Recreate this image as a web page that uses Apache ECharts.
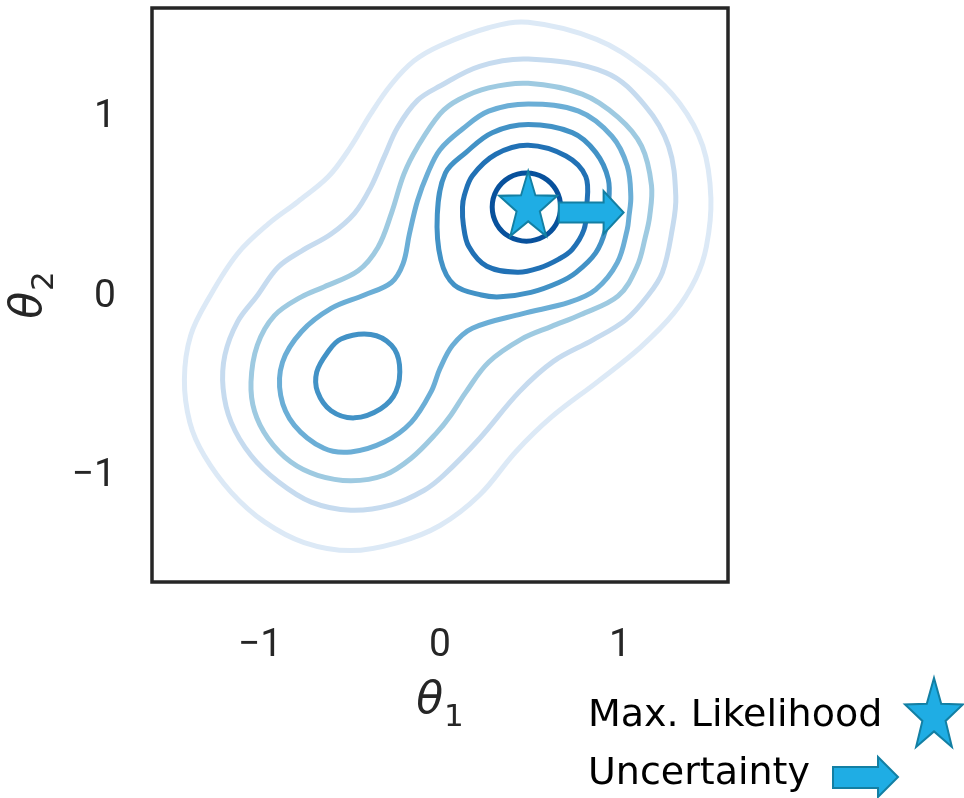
<!DOCTYPE html>
<html>
<head>
<meta charset="utf-8">
<script src="https://cdn.jsdelivr.net/npm/echarts@6/dist/echarts.min.js"></script>
<style>
  html, body { margin: 0; padding: 0; background: #fff; }
  #chart { width: 964px; height: 798px; }
</style>
</head>
<body>
<div id="chart"></div>
<script>
// tick values on both axes
var xTicks = [-1, 0, 1];
var yTicks = [-1, 0, 1];

// contour colours, outermost level first
var levelColors = ['#dce9f6', '#c6dbef', '#9ecae1', '#6baed6', '#4292c6', '#2171b5', '#08519c'];

// contour paths, [theta1, theta2]
var contourL1 = [[0.49,1.53],[0.87,1.435],[1.14,1.27],[1.33,1.08],[1.46,0.84],[1.505,0.55],[1.48,0.28],[1.42,0.10],[1.30,-0.09],[1.115,-0.28],[0.88,-0.47],[0.62,-0.67],[0.42,-0.865],[0.22,-1.105],[0.0,-1.275],[-0.235,-1.37],[-0.495,-1.415],[-0.755,-1.37],[-0.975,-1.255],[-1.16,-1.09],[-1.31,-0.885],[-1.39,-0.70],[-1.42,-0.46],[-1.385,-0.215],[-1.28,0.0],[-1.125,0.24],[-0.955,0.405],[-0.79,0.53],[-0.62,0.67],[-0.50,0.83],[-0.385,1.02],[-0.27,1.185],[-0.145,1.315],[0.0,1.40],[0.27,1.50]];
var contourL2 = [[0.49,1.325],[0.92,1.25],[1.14,1.065],[1.27,0.84],[1.31,0.56],[1.29,0.375],[1.235,0.135],[1.15,0.0],[1.03,-0.13],[0.85,-0.24],[0.63,-0.36],[0.44,-0.53],[0.22,-0.79],[0.02,-0.995],[-0.09,-1.08],[-0.27,-1.16],[-0.495,-1.19],[-0.715,-1.145],[-0.9,-1.03],[-1.05,-0.885],[-1.16,-0.70],[-1.205,-0.51],[-1.195,-0.325],[-1.125,-0.14],[-1.02,0.0],[-0.9,0.165],[-0.77,0.255],[-0.605,0.35],[-0.475,0.465],[-0.385,0.61],[-0.31,0.78],[-0.235,0.945],[-0.125,1.095],[0.0,1.175],[0.22,1.285]];
var contourL3 = [[0.49,1.19],[0.79,1.13],[0.99,1.0],[1.12,0.84],[1.175,0.62],[1.165,0.45],[1.14,0.33],[1.095,0.17],[0.99,0.005],[0.78,-0.10],[0.62,-0.165],[0.455,-0.235],[0.27,-0.365],[0.145,-0.53],[0.06,-0.66],[-0.02,-0.76],[-0.16,-0.90],[-0.31,-0.995],[-0.495,-1.025],[-0.68,-0.995],[-0.83,-0.92],[-0.955,-0.79],[-1.03,-0.64],[-1.05,-0.475],[-1.015,-0.27],[-0.92,-0.105],[-0.77,0.0],[-0.645,0.055],[-0.455,0.145],[-0.345,0.275],[-0.27,0.465],[-0.2,0.685],[-0.125,0.835],[0.0,1.02],[0.105,1.10],[0.27,1.165]];
var contourL4 = [[0.49,1.075],[0.77,1.035],[0.955,0.895],[1.04,0.73],[1.06,0.56],[1.05,0.45],[1.04,0.375],[0.985,0.19],[0.865,0.04],[0.72,-0.03],[0.455,-0.095],[0.18,-0.175],[0.07,-0.27],[0.0,-0.40],[-0.05,-0.53],[-0.16,-0.70],[-0.31,-0.81],[-0.495,-0.865],[-0.645,-0.845],[-0.81,-0.715],[-0.885,-0.55],[-0.875,-0.365],[-0.77,-0.195],[-0.605,-0.065],[-0.42,0.01],[-0.27,0.08],[-0.205,0.185],[-0.17,0.35],[-0.125,0.535],[-0.07,0.685],[0.0,0.82],[0.125,0.935],[0.27,1.035]];
var contourL5a = [[0.49,0.96],[0.735,0.915],[0.865,0.805],[0.935,0.655],[0.935,0.5],[0.92,0.375],[0.865,0.245],[0.755,0.135],[0.66,0.08],[0.505,0.025],[0.335,0.0],[0.23,0.01],[0.08,0.065],[0.005,0.205],[-0.015,0.46],[0.03,0.69],[0.145,0.805],[0.29,0.915]];
var contourL5b = [[-0.55,-0.235],[-0.385,-0.21],[-0.27,-0.27],[-0.225,-0.38],[-0.245,-0.53],[-0.33,-0.625],[-0.475,-0.675],[-0.605,-0.635],[-0.68,-0.53],[-0.685,-0.42],[-0.625,-0.31]];
var contourL6 = [[0.49,0.845],[0.70,0.785],[0.81,0.67],[0.815,0.5],[0.80,0.375],[0.735,0.265],[0.66,0.21],[0.55,0.16],[0.43,0.137],[0.26,0.17],[0.16,0.28],[0.13,0.40],[0.125,0.5],[0.135,0.565],[0.18,0.675],[0.31,0.795]];
var contourL7 = [[0.48,0.69],[0.575,0.665],[0.645,0.595],[0.67,0.50],[0.645,0.405],[0.575,0.335],[0.48,0.31],[0.385,0.335],[0.315,0.405],[0.29,0.50],[0.315,0.595],[0.385,0.665]];

// max likelihood point and the uncertainty arrow
var mlPoint = [0.49, 0.52];
var arrowFrom = [0.66, 0.47];
var arrowTo = [1.02, 0.47];

var starPath = 'path://M100 0 L123.51 67.64 L195.11 69.1 L138.04 112.36 L158.78 180.9 L100 140 L41.22 180.9 L61.96 112.36 L4.89 69.1 L76.49 67.64 Z';
var starFill = '#1fade4';
var starStroke = '#137fa3';
var ink = '#262626';
var tickFont = 'Roboto';

function minus(v) {
    return v < 0 ? '\u2212' + Math.abs(v) : String(v);
}

function contour(points, color) {
    return {
        type: 'custom',
        coordinateSystem: 'cartesian2d',
        data: points,
        encode: { x: 0, y: 1 },
        silent: true,
        z: 2,
        renderItem: function (params, api) {
            if (params.dataIndex !== 0) return;
            var pts = points.map(function (p) { return api.coord(p); });
            return {
                type: 'polygon',
                shape: { points: pts, smooth: 0.36 },
                style: { fill: 'none', stroke: color, lineWidth: 5 }
            };
        }
    };
}

var chart = echarts.init(document.getElementById('chart'));

var nameRich = {
    t: { fontFamily: 'DejaVu Sans', fontStyle: 'italic', fontSize: 44, color: ink },
    s: { fontFamily: 'DejaVu Sans', fontSize: 31, color: ink, padding: [32, 0, 0, 1] }
};

var option = {
    backgroundColor: '#fff',
    animation: false,
    grid: {
        left: 152, top: 8, width: 576, height: 574,
        show: true, borderColor: ink, borderWidth: 3.5,
        outerBoundsMode: 'none'
    },
    xAxis: {
        type: 'value', min: -1.6, max: 1.6,
        axisLine: { show: false }, axisTick: { show: false }, splitLine: { show: false },
        axisLabel: {
            customValues: xTicks, formatter: minus, margin: 45,
            fontFamily: tickFont, fontSize: 39, color: ink
        },
        name: '{t|θ}{s|1}', nameLocation: 'middle', nameGap: 88,
        nameTextStyle: { rich: nameRich }
    },
    yAxis: {
        type: 'value', min: -1.59, max: 1.61,
        axisLine: { show: false }, axisTick: { show: false }, splitLine: { show: false },
        axisLabel: {
            customValues: yTicks, formatter: minus, margin: 36,
            fontFamily: tickFont, fontSize: 39, color: ink
        },
        name: '{t|θ}{s|2}', nameLocation: 'middle', nameGap: 90, nameRotate: 90,
        nameTextStyle: { rich: nameRich }
    },
    series: [
        contour(contourL1, levelColors[0]),
        contour(contourL2, levelColors[1]),
        contour(contourL3, levelColors[2]),
        contour(contourL4, levelColors[3]),
        contour(contourL5a, levelColors[4]),
        contour(contourL5b, levelColors[4]),
        contour(contourL6, levelColors[5]),
        contour(contourL7, levelColors[6]),
        {
            type: 'custom',
            coordinateSystem: 'cartesian2d',
            data: [arrowFrom, arrowTo],
            encode: { x: 0, y: 1 },
            z: 5,
            renderItem: function (params, api) {
                if (params.dataIndex !== 0) return;
                var a = api.coord(arrowFrom);
                var b = api.coord(arrowTo);
                var head = 20, shaft = 10, wing = 21.5;
                var yc = (a[1] + b[1]) / 2;
                return {
                    type: 'polygon',
                    shape: { points: [
                        [a[0], yc - shaft], [b[0] - head, yc - shaft], [b[0] - head, yc - wing],
                        [b[0], yc], [b[0] - head, yc + wing], [b[0] - head, yc + shaft], [a[0], yc + shaft]
                    ] },
                    style: { fill: starFill, stroke: starStroke, lineWidth: 2 }
                };
            }
        },
        {
            type: 'scatter',
            data: [mlPoint],
            symbol: starPath,
            symbolSize: [58, 65],
            z: 6,
            itemStyle: { color: starFill, borderColor: starStroke, borderWidth: 2, opacity: 1 }
        }
    ],
    graphic: [
        {
            type: 'text', left: 588, top: 697,
            style: { text: 'Max. Likelihood', fontFamily: 'DejaVu Sans', fontSize: 38, fill: '#000' }
        },
        {
            type: 'text', left: 588, top: 755,
            style: { text: 'Uncertainty', fontFamily: 'DejaVu Sans', fontSize: 38, fill: '#000' }
        },
        {
            type: 'polygon',
            shape: { points: [[934, 678], [941.2, 703.8], [963, 704.4], [945.6, 720.9], [951.9, 747], [934, 731.4], [916.1, 747], [922.4, 720.9], [905, 704.4], [926.8, 703.8]] },
            style: { fill: starFill, stroke: starStroke, lineWidth: 2 }
        },
        {
            type: 'polygon',
            shape: { points: [[833, 767], [878, 767], [878, 757], [898, 777], [878, 797], [878, 788], [833, 788]] },
            style: { fill: starFill, stroke: starStroke, lineWidth: 2 }
        }
    ]
};

chart.setOption(option);
</script>
</body>
</html>
